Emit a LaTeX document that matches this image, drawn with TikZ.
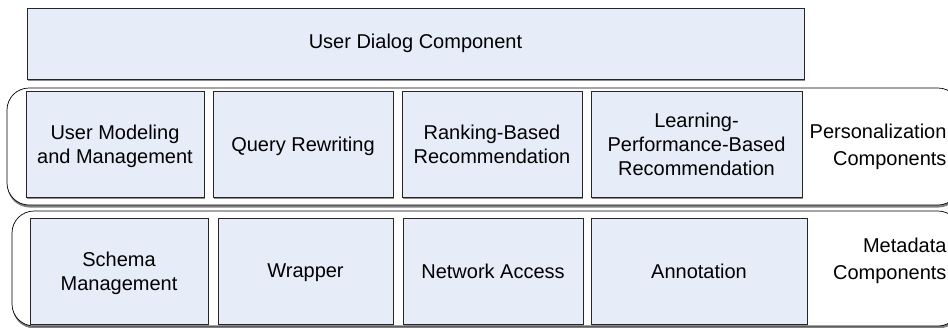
\documentclass[tikz,border=0pt]{standalone}
\usepackage{fontspec}
\setmainfont{Liberation Sans}
\usetikzlibrary{shadows}
\definecolor{boxfill}{HTML}{E6EDF8}

\begin{document}
\begin{tikzpicture}[x=1pt, y=-1pt,
    every node/.style={font=\fontsize{20}{24}\selectfont},
    comp/.style={draw=black!85, line width=0.7pt, fill=boxfill, align=center, inner sep=2pt,
      drop shadow={shadow xshift=1.2pt, shadow yshift=-1.5pt, fill=black!45, opacity=1}},
    layer/.style={draw=black, line width=0.7pt, fill=white, rounded corners=22pt,
      drop shadow={shadow xshift=0.5pt, shadow yshift=-2.5pt, fill=black!50, opacity=1, rounded corners=22pt}}]

    \useasboundingbox (0,0) rectangle (948,327);
    \clip (0,0) rectangle (948,327);

    \node (dialog) [comp, minimum width=777pt, minimum height=71pt] at (415.5,43.5) {User Dialog Component};

    \node (pers) [layer, minimum width=953pt, minimum height=117pt] at (483.5,146.5) {};
    \node (meta) [layer, minimum width=948pt, minimum height=115pt] at (486,268.5) {};

    \foreach \cx/\w/\name/\txt in {115/178/usermod/{User Modeling\\and Management},
        303/180/rewrite/{Query Rewriting},
        492/180/ranking/{Ranking-Based\\Recommendation},
        696.5/211/learnperf/{Learning-\\Performance-Based\\Recommendation}}
    \node (\name) [comp, minimum width=\w pt, minimum height=106pt, text depth=0pt] at (\cx,144) {\txt};

    \foreach \cx/\w/\name/\txt in {119/178/schema/{Schema\\Management},
        305.5/175/wrapper/{Wrapper},
        493/180/network/{Network Access},
        699/216/annot/{Annotation}}
    \node (\name) [comp, minimum width=\w pt, minimum height=106pt, text depth=0pt] at (\cx,271) {\txt};

    \node (perslabel) [anchor=east, align=right, font=\fontsize{20}{27}\selectfont] at (950,146.5) {Personalization\\Components};
    \node (metalabel) [anchor=east, align=right, font=\fontsize{20}{27}\selectfont] at (950,261) {Metadata\\Components};

\end{tikzpicture}
\end{document}
